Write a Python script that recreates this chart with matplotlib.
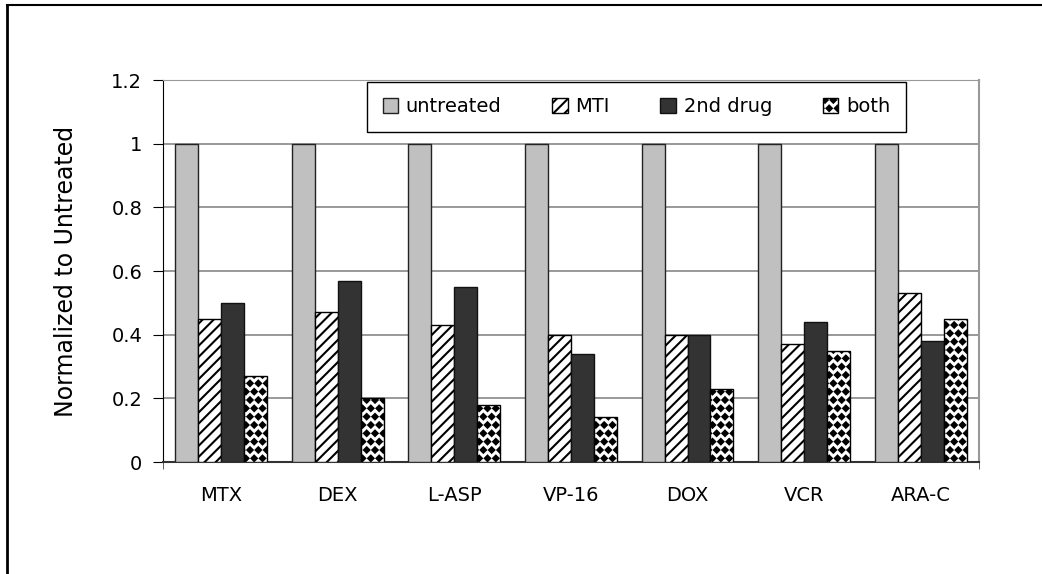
import matplotlib.pyplot as plt
import numpy as np
from matplotlib import hatch as mhatch
from matplotlib.path import Path
from matplotlib.lines import Line2D

plt.rcParams['font.family'] = ['DejaVu Sans']
plt.rcParams['hatch.linewidth'] = 1.5


# diamond fill for the "both" series, hooked onto the '*' hatch symbol
class FilledDiamonds(mhatch.Shapes):
    size = 0.32
    filled = True

    def __init__(self, hatch, density):
        self.num_rows = hatch.count('*') * density
        self.shape_vertices = np.array([[0, -1], [1, 0], [0, 1], [-1, 0], [0, -1]], float)
        self.shape_codes = np.array([Path.MOVETO] + [Path.LINETO] * 3 + [Path.CLOSEPOLY],
                                    dtype=Path.code_type)
        super().__init__(hatch, density)


mhatch._hatch_types = [t for t in mhatch._hatch_types if t is not mhatch.Stars] + [FilledDiamonds]

drugs = ['MTX', 'DEX', 'L-ASP', 'VP-16', 'DOX', 'VCR', 'ARA-C']
untreated = [1, 1, 1, 1, 1, 1, 1]
mti = [0.45, 0.47, 0.43, 0.40, 0.40, 0.37, 0.53]
second_drug = [0.50, 0.57, 0.55, 0.34, 0.40, 0.44, 0.38]
both = [0.27, 0.20, 0.18, 0.14, 0.23, 0.35, 0.45]

fig = plt.figure(figsize=(10.42, 5.74), dpi=100)
ax = fig.add_axes([0.1564, 0.1951, 0.7831, 0.6655])

x = np.arange(len(drugs))
w = 0.197
ax.bar(x - 1.5*w, untreated, w, color='#c0c0c0', edgecolor='#222222', lw=1, label='untreated', zorder=3)
ax.bar(x - 0.5*w, mti, w, color='white', edgecolor='black', hatch='///', lw=1, label='MTI', zorder=3)
ax.bar(x + 0.5*w, second_drug, w, color='#333333', edgecolor='#111111', lw=1, label='2nd drug', zorder=3)
ax.bar(x + 1.5*w, both, w, color='white', edgecolor='black', hatch='**', lw=1, label='both', zorder=3)

ax.set_xlim(-0.5, len(drugs) - 0.5)
ax.set_ylim(0, 1.2)
ax.set_yticks(np.arange(0, 1.21, 0.2))
ax.set_yticklabels(['0', '0.2', '0.4', '0.6', '0.8', '1', '1.2'])
ax.set_xticks(x)
ax.set_xticklabels(drugs)
ax.set_xticks([-0.5, len(drugs) - 0.5], minor=True)
ax.tick_params(axis='x', which='major', length=0, pad=17, labelsize=14)
ax.tick_params(axis='x', which='minor', length=5, direction='out', color='#444444')
ax.tick_params(axis='y', length=7, direction='out', labelsize=14, pad=8)
ax.yaxis.grid(True, color='#888888', lw=1.2, zorder=0)
ax.set_axisbelow(True)

ax.spines['left'].set_color('black')
ax.spines['bottom'].set_color('#333333')
ax.spines['bottom'].set_linewidth(1.5)
ax.spines['top'].set_color('#999999')
ax.spines['right'].set_color('#999999')
ax.spines['right'].set_linewidth(1.5)

ax.set_ylabel('Normalized to Untreated', fontsize=17)
ax.yaxis.set_label_coords(-0.104, 0.5)

leg = ax.legend(loc='lower left', bbox_to_anchor=(0.25, 0.8639, 0.6605, 0.131), mode='expand',
                ncol=4, fontsize=14, frameon=True, fancybox=False, edgecolor='black',
                framealpha=1, handlelength=0.8, handleheight=0.8, handletextpad=0.4,
                borderpad=0.8, borderaxespad=0)
leg.get_frame().set_linewidth(1)

fig.add_artist(Line2D([7/1042, 7/1042], [0, 1 - 5/574], color='black', lw=2))
fig.add_artist(Line2D([7/1042, 1], [1 - 5/574, 1 - 5/574], color='black', lw=1.5))

fig.savefig('out.png', dpi=100)
